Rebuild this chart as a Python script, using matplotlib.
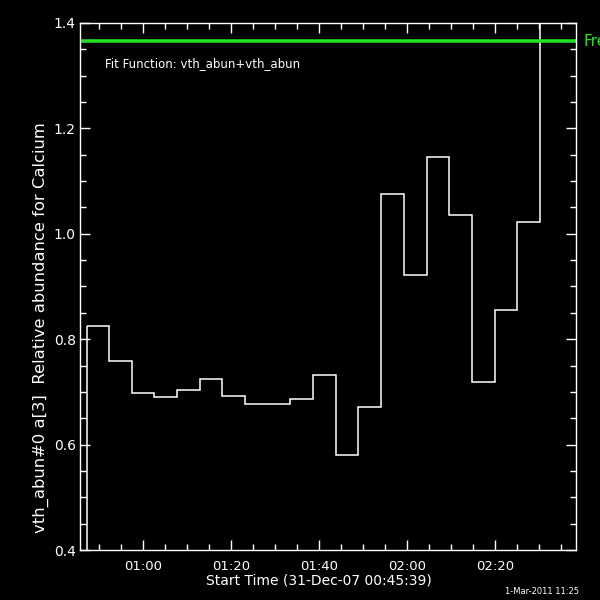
import matplotlib
matplotlib.use("Agg")
import matplotlib.pyplot as plt
from matplotlib.ticker import MultipleLocator, FuncFormatter
import matplotlib.transforms as mtransforms

# ---- data (time in minutes after 00:00 on 31-Dec-07) ----
bin_edges = [47.17, 52.31, 57.54, 62.54, 67.76, 73.00, 78.00, 83.22, 88.33,
             93.45, 98.67, 103.90, 108.90, 114.17, 119.35, 124.44, 129.58,
             134.81, 140.04, 145.04, 150.27, 155.40]
abundance = [0.825, 0.758, 0.697, 0.690, 0.703, 0.725, 0.693, 0.677, 0.677,
             0.687, 0.733, 0.580, 0.672, 1.075, 0.921, 1.145, 1.035, 0.718,
             0.855, 1.022, 1.600]
free_level = 1.365
x_range = [45.65, 158.4]
y_range = [0.4, 1.4]
x_major_ticks = [60, 80, 100, 120, 140]

fg = "white"
green = "#22e022"

fig = plt.figure(figsize=(6, 6), dpi=100, facecolor="black")
ax = fig.add_axes([80/600, 50/600, 496/600, 527/600], facecolor="black")

ax.stairs(abundance, bin_edges, baseline=None, color=fg, lw=1.1)
ax.vlines(bin_edges[0], y_range[0], abundance[0], color=fg, lw=1.1)
ax.axhline(free_level, color=green, lw=2.6)

ax.set_xlim(*x_range)
ax.set_ylim(*y_range)

ax.xaxis.set_major_locator(plt.FixedLocator(x_major_ticks))
ax.xaxis.set_minor_locator(MultipleLocator(5))
ax.xaxis.set_major_formatter(FuncFormatter(lambda m, p: f"{int(m//60):02d}:{int(round(m % 60)):02d}"))
ax.yaxis.set_major_locator(MultipleLocator(0.2))
ax.yaxis.set_minor_locator(MultipleLocator(0.05))
ax.yaxis.set_major_formatter(FuncFormatter(lambda v, p: f"{v:.1f}"))

ax.tick_params(which="both", direction="in", top=True, right=True,
               colors=fg, labelcolor=fg, width=1)
ax.tick_params(which="major", length=7.5, labelsize=10)
ax.tick_params(axis="x", which="major", pad=7, labelsize=9.5)
ax.tick_params(axis="y", which="major", pad=3)
ax.tick_params(which="minor", length=4)
for s in ax.spines.values():
    s.set_color(fg)
    s.set_linewidth(1)

ax.text(0.0504, 0.924, "Fit Function: vth_abun+vth_abun", transform=ax.transAxes,
        color=fg, fontsize=8.5, ha="left", va="center")

trans = mtransforms.blended_transform_factory(ax.transAxes, ax.transData)
ax.text(1.016, free_level, "Free", transform=trans, color=green,
        fontsize=11, ha="left", va="center", clip_on=False)

fig.text(318.7/600, 1 - 581/600, "Start Time (31-Dec-07 00:45:39)", color=fg,
         fontsize=10, ha="center", va="center")
fig.text(41/600, 1 - 328/600, "vth_abun#0 a[3]  Relative abundance for Calcium",
         color=fg, fontsize=11.8, ha="center", va="center", rotation=90)
fig.text(579/600, 1 - 591/600, "1-Mar-2011 11:25", color=fg, fontsize=6,
         ha="right", va="center")

fig.savefig("out.png", dpi=100, facecolor="black")
